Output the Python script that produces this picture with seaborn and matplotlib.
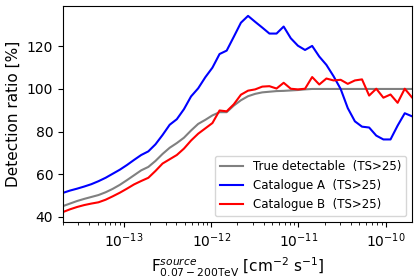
import numpy as np
import pandas as pd
import matplotlib
matplotlib.use('Agg')
import matplotlib.pyplot as plt
import seaborn as sns

# flux bins, evenly spaced in log
flux = np.logspace(-13.7, -9.7, 50)

true_det = [45.0, 46.2, 47.4, 48.4, 49.3, 50.2, 51.5, 53.1, 55.0, 57.2,
            59.5, 61.8, 63.4, 66.2, 69.5, 72.4, 74.6, 77.1, 80.5, 83.6,
            85.5, 87.6, 89.1, 89.1, 92.2, 94.7, 96.6, 97.7, 98.4, 98.7,
            99.0, 99.1, 99.3, 99.5, 99.8, 100.0, 100.0, 100.0, 100.0, 100.0,
            100.0, 100.0, 100.0, 100.0, 100.0, 100.0, 100.0, 100.0, 100.0, 100.0]

cat_a = [51.2, 52.3, 53.2, 54.2, 55.3, 56.7, 58.3, 60.2, 62.1, 64.3,
         66.7, 69.0, 70.7, 74.0, 78.4, 83.2, 85.8, 90.5, 96.5, 100.3,
         105.5, 110.0, 116.4, 118.0, 124.5, 131.1, 134.3, 131.5, 128.8, 126.0,
         126.0, 129.3, 123.8, 120.3, 118.3, 120.2, 115.2, 111.3, 106.0, 100.0,
         91.0, 84.8, 82.3, 81.9, 78.1, 76.3, 76.3, 82.8, 88.6, 87.2]

cat_b = [42.2, 43.5, 44.6, 45.5, 46.2, 46.8, 48.0, 49.6, 51.3, 53.2,
         55.2, 56.8, 58.3, 61.5, 65.0, 67.0, 69.0, 72.0, 75.8, 79.0,
         81.5, 84.0, 89.9, 89.5, 92.8, 97.3, 99.2, 99.8, 101.1, 101.3,
         100.2, 102.9, 100.1, 99.8, 100.1, 105.6, 102.1, 104.9, 104.0, 104.3,
         102.4, 104.0, 104.5, 96.9, 100.1, 95.9, 97.4, 93.5, 100.1, 96.1]

labels = ['True detectable  (TS>25)', 'Catalogue A  (TS>25)', 'Catalogue B  (TS>25)']
colors = ['grey', 'blue', 'red']

df = pd.concat([
    pd.DataFrame({'flux': flux, 'ratio': vals, 'sample': lab})
    for vals, lab in zip([true_det, cat_a, cat_b], labels)
])

fig = plt.figure(figsize=(4.19, 2.76), dpi=100)
ax = fig.add_axes([0.150, 0.196, 0.833, 0.782])

sns.lineplot(data=df, x='flux', y='ratio', hue='sample', hue_order=labels,
             palette=dict(zip(labels, colors)), linewidth=1.5, ax=ax)

ax.set_xscale('log')
ax.set_xlim(flux[0], flux[-1])
ax.set_xlabel(r'F$^{source}_{0.07-200\mathrm{TeV}}$ [cm$^{-2}$ s$^{-1}$]', fontsize=11)
ax.set_ylabel('Detection ratio [%]', fontsize=11)
ax.tick_params(labelsize=10)
ax.legend(loc='lower right', fontsize=8.5, title=None)

fig.savefig('out.png', dpi=100)
